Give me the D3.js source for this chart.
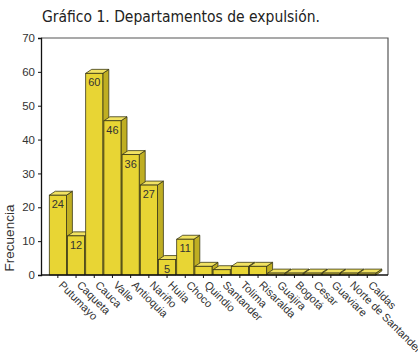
<!DOCTYPE html>
<html><head><meta charset="utf-8">
<script src="https://cdn.jsdelivr.net/npm/d3@7/dist/d3.min.js"></script>
<style>html,body{margin:0;padding:0;background:#fff;}svg{display:block;}</style>
</head><body>
<script>
const categories = ["Putumayo","Caqueta","Cauca","Valle","Antioquia","Nariño","Huila","Choco","Quindio","Santander","Tolima","Risaralda","Guajira","Bogotá","Cesar","Guaviare","Norte de Santander","Caldas"];
const values = [24,12,60,46,36,27,5,11,3,2,3,3,1,1,1,1,1,1];
const yTicks = [0,10,20,30,40,50,60,70];
const title = "Gráfico 1. Departamentos de expulsión.";
const yTitle = "Frecuencia";

const W = 418, H = 353;
const svg = d3.select("body").append("svg").attr("width", W).attr("height", H);

const plot = {left: 41, right: 388, top: 38, bottom: 275};
const y = d3.scaleLinear().domain([0, 70]).range([plot.bottom, plot.top]);
const x = d3.scaleBand().domain(categories).range([48.75, 376.35]).paddingInner(0.06).paddingOuter(0.03);

// frame (top and right)
svg.append("path")
  .attr("d", `M${plot.left},${plot.top}H${plot.right}V${plot.bottom}`)
  .attr("fill", "none").attr("stroke", "#555").attr("stroke-width", 1.2);

// title
svg.append("text").attr("x", 42).attr("y", 22)
  .attr("font-family", "DejaVu Sans").attr("font-size", 15.5).attr("fill", "#222")
  .attr("textLength", 278).attr("lengthAdjust", "spacingAndGlyphs")
  .text(title);

// y axis
const yAxis = svg.append("g").attr("transform", `translate(${plot.left},0)`)
  .call(d3.axisLeft(y).tickValues(yTicks).tickSize(3).tickPadding(3));
yAxis.select(".domain").attr("stroke", "#111").attr("stroke-width", 1.3);
yAxis.selectAll(".tick line").attr("stroke", "#111");
yAxis.selectAll("text").attr("font-family", "Liberation Sans, Arial").attr("font-size", 11.5).attr("fill", "#333");

svg.append("text")
  .attr("transform", `translate(14,238) rotate(-90)`)
  .attr("text-anchor", "middle")
  .attr("font-family", "Liberation Sans, Arial").attr("font-size", 13.5).attr("fill", "#333")
  .text(yTitle);

// bars (3D)
const dx = 6, dy = 4;
const bars = svg.append("g");
categories.forEach((c, i) => {
  const v = values[i];
  const x0 = x(c), x1 = x0 + x.bandwidth();
  const ft = y(v) + 1.5;
  const fb = plot.bottom;
  const g = bars.append("g");
  const stroke = "#3a3818", sw = 0.8;
  g.append("path").attr("d", `M${x1},${fb}L${x1},${ft}L${x1+dx},${ft-dy}L${x1+dx},${fb-dy}Z`)
    .attr("fill", "#bfae22").attr("stroke", stroke).attr("stroke-width", sw).attr("stroke-linejoin", "round");
  g.append("path").attr("d", `M${x0},${ft}L${x0+dx},${ft-dy}L${x1+dx},${ft-dy}L${x1},${ft}Z`)
    .attr("fill", "#f1e262").attr("stroke", stroke).attr("stroke-width", sw).attr("stroke-linejoin", "round");
  g.append("rect").attr("x", x0).attr("y", ft).attr("width", x.bandwidth()).attr("height", fb - ft)
    .attr("fill", "#e8d534").attr("stroke", stroke).attr("stroke-width", sw);
  if (v >= 5) {
    g.append("text").attr("x", (x0 + x1) / 2).attr("y", ft + 13)
      .attr("text-anchor", "middle")
      .attr("font-family", "Liberation Sans, Arial").attr("font-size", 11).attr("fill", "#333")
      .text(v);
  }
});

// x axis
svg.append("line").attr("x1", plot.left).attr("x2", plot.right).attr("y1", plot.bottom).attr("y2", plot.bottom)
  .attr("stroke", "#111").attr("stroke-width", 1.3);
const xt = svg.append("g");
categories.forEach(c => {
  const cx = x(c) + x.bandwidth() / 2;
  xt.append("line").attr("x1", cx).attr("x2", cx).attr("y1", plot.bottom).attr("y2", plot.bottom + 3).attr("stroke", "#111");
  xt.append("text")
    .attr("transform", `translate(${cx + 3},${plot.bottom + 8}) rotate(45)`)
    .attr("text-anchor", "start").attr("dy", "0.35em")
    .attr("font-family", "Liberation Sans, Arial").attr("font-size", 11).attr("fill", "#333")
    .text(c);
});
</script>
</body></html>
